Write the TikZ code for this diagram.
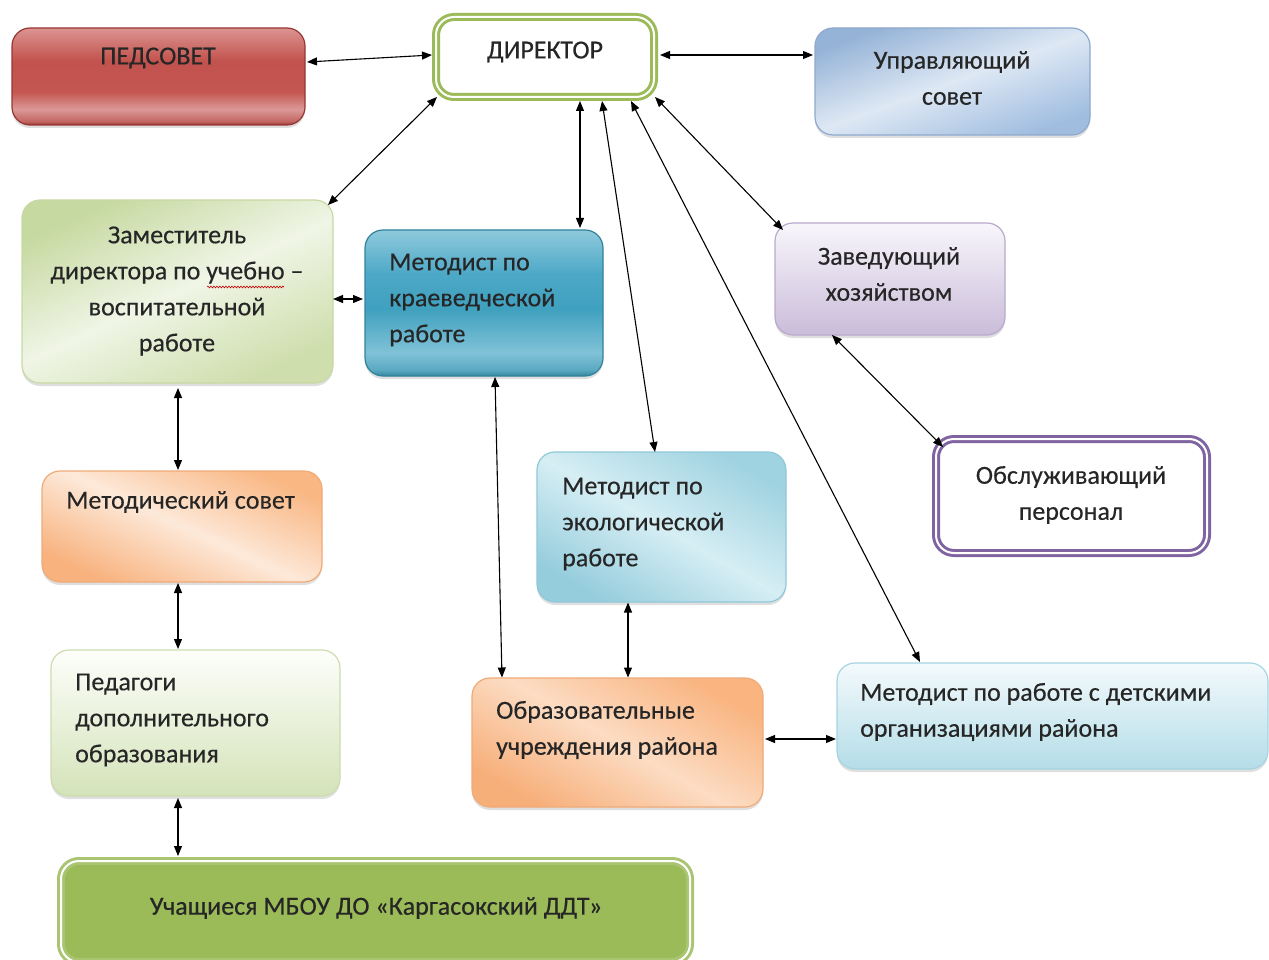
\documentclass[tikz,border=0pt]{standalone}
\usepackage{fontspec}
\setmainfont{Carlito}
\newfontfamily\lblfont{Carlito}[FakeBold=0.35]
\usetikzlibrary{arrows.meta,calc,shadows,decorations.pathmorphing}
\definecolor{grn}{HTML}{9BBB59}
\definecolor{purp}{HTML}{8064A2}
\pgfdeclareverticalshading{pedsh}{100bp}{%
  rgb(0bp)=(0.62,0.22,0.21);
  rgb(25bp)=(0.62,0.22,0.21);
  rgb(27bp)=(0.76,0.40,0.39);
  rgb(33bp)=(0.86,0.60,0.59);
  rgb(42bp)=(0.77,0.34,0.32);
  rgb(58bp)=(0.76,0.32,0.30);
  rgb(73bp)=(0.85,0.55,0.54);
  rgb(75bp)=(0.86,0.58,0.57);
  rgb(100bp)=(0.86,0.58,0.57)}
\pgfdeclareverticalshading{krsh}{100bp}{%
  rgb(0bp)=(0.20,0.52,0.62);
  rgb(25bp)=(0.20,0.52,0.62);
  rgb(27bp)=(0.35,0.66,0.76);
  rgb(33bp)=(0.50,0.76,0.84);
  rgb(48bp)=(0.25,0.63,0.75);
  rgb(60bp)=(0.30,0.66,0.78);
  rgb(75bp)=(0.56,0.79,0.86);
  rgb(100bp)=(0.56,0.79,0.86)}
\tikzset{
  box/.style={rounded corners=18pt, outer sep=0pt, inner sep=0pt, draw, line width=1.2pt,
    drop shadow={shadow xshift=0pt,shadow yshift=-3pt,opacity=0.25}},
  dbl/.style={rounded corners=18pt, outer sep=0pt, inner sep=0pt, line width=3pt, double distance=2pt,
    drop shadow={shadow xshift=0pt,shadow yshift=-3pt,opacity=0.2}},
  lbl/.style={font=\lblfont\fontsize{26}{36}\selectfont, inner sep=0pt, text=black!85},
  conn/.style={{Triangle[length=10pt,width=8pt]}-{Triangle[length=10pt,width=8pt]}, line width=1.1pt}
}
\begin{document}
\begin{tikzpicture}[x=1pt,y=-1pt]
\useasboundingbox (0,0) rectangle (1269,960);
% boxes
\node[box, minimum width=293pt, minimum height=97pt, draw={rgb,255:red,150;green,55;blue,52}, shading=pedsh] (ped) at (158.5,76.5) {};
\node[dbl, draw=grn, double=white, fill=white, minimum width=218pt, minimum height=80pt] (dir) at (545,57) {};
\node[box, minimum width=275pt, minimum height=107pt, draw={rgb,255:red,142;green,169;blue,205}, top color={rgb,255:red,149;green,179;blue,215}, bottom color={rgb,255:red,160;green,189;blue,224}, middle color={rgb,255:red,222;green,232;blue,244}, shading angle=20] (upr) at (952.5,81.5) {};
\node[box, minimum width=311pt, minimum height=183pt, draw={rgb,255:red,200;green,217;blue,165}, top color={rgb,255:red,198;green,217;blue,160}, bottom color={rgb,255:red,206;green,222;blue,172}, middle color={rgb,255:red,240;green,245;blue,230}, shading angle=25] (zam) at (177.5,291.5) {};
\node[box, minimum width=238pt, minimum height=146pt, draw={rgb,255:red,50;green,130;blue,155}, shading=krsh] (kr) at (484,303) {};
\node[box, minimum width=230pt, minimum height=112pt, draw={rgb,255:red,184;green,170;blue,204}, top color={rgb,255:red,248;green,246;blue,251}, bottom color={rgb,255:red,202;green,188;blue,218}] (zav) at (890,279) {};
\node[dbl, draw=purp, double=white, fill=white, minimum width=271pt, minimum height=114pt] (obs) at (1071.5,496) {};
\node[box, minimum width=280pt, minimum height=111pt, draw={rgb,255:red,240;green,170;blue,120}, top color={rgb,255:red,249;green,183;blue,132}, bottom color={rgb,255:red,248;green,178;blue,126}, middle color={rgb,255:red,253;green,233;blue,217}, shading angle=-25] (msov) at (182,526.5) {};
\node[box, minimum width=249pt, minimum height=150pt, draw={rgb,255:red,145;green,200;blue,216}, top color={rgb,255:red,160;green,211;blue,225}, bottom color={rgb,255:red,150;green,205;blue,221}, middle color={rgb,255:red,214;green,238;blue,244}, shading angle=-30] (eco) at (661.5,527) {};
\node[box, minimum width=289pt, minimum height=146pt, draw={rgb,255:red,205;green,220;blue,175}, top color={rgb,255:red,253;green,254;blue,250}, bottom color={rgb,255:red,212;green,227;blue,185}] (ped2) at (195.5,723) {};
\node[box, minimum width=291pt, minimum height=129pt, draw={rgb,255:red,240;green,170;blue,120}, top color={rgb,255:red,249;green,180;blue,128}, bottom color={rgb,255:red,247;green,175;blue,122}, middle color={rgb,255:red,252;green,220;blue,195}, shading angle=-30] (obr) at (617.5,742.5) {};
\node[box, minimum width=431pt, minimum height=106pt, draw={rgb,255:red,165;green,213;blue,226}, top color={rgb,255:red,244;green,250;blue,252}, bottom color={rgb,255:red,180;green,221;blue,232}] (det) at (1052.5,716) {};
\node[dbl, draw=grn!85!white, double=white, fill=grn, minimum width=629pt, minimum height=101pt] (uch) at (375.5,911.5) {};
% labels
\node[lbl] (tped) at (158,58) {ПЕДСОВЕТ};
\node[lbl] (tdir) at (545,52) {ДИРЕКТОР};
\node[lbl, align=center] (tupr) at (952,78) {Управляющий\\совет};
\node[lbl, align=center] (tzam) at (177,291) {Заместитель\\директора по учебно –\\воспитательной\\работе};
\node[lbl, align=left, anchor=west] (tkr) at (389,300) {Методист по\\краеведческой\\работе};
\node[lbl, align=center] (tzav) at (889,274) {Заведующий\\хозяйством};
\node[lbl, align=center] (tobs) at (1071,495) {Обслуживающий\\персонал};
\node[lbl, anchor=west] (tmsov) at (66,502) {Методический совет};
\node[lbl, align=left, anchor=west] (teco) at (562,524) {Методист по\\экологической\\работе};
\node[lbl, align=left, anchor=west] (tped2) at (75,720) {Педагоги\\дополнительного\\образования};
\node[lbl, align=left, anchor=west] (tobr) at (496,730) {Образовательные\\учреждения района};
\node[lbl, align=left, anchor=west] (tdet) at (860,712) {Методист по работе с детскими\\организациями района};
\node[lbl] (tuch) at (376,908) {Учащиеся МБОУ ДО «Каргасокский ДДТ»};
% spell-check underline
\coordinate (sqa) at ($(tzam)+(30,-4)$);
\coordinate (sqb) at ($(tzam)+(107,-4)$);
\draw[red!80!black, line width=0.6pt, decorate, decoration={snake, amplitude=0.9pt, segment length=3pt}] (sqa) -- (sqb);
% connectors
\draw[conn] ($(ped)+(148.5,-14.5)$) -- ($(dir)+(-113,-2)$);
\draw[conn] ($(dir)+(115,-2)$) -- ($(upr)+(-139.5,-26.5)$);
\draw[conn] ($(dir)+(-108,40)$) -- ($(zam)+(150.5,-86.5)$);
\draw[conn] ($(dir)+(35,44)$) -- ($(kr)+(96,-75)$);
\draw[conn] ($(dir)+(57,44)$) -- ($(eco)+(-6.5,-75)$);
\draw[conn] ($(dir)+(86,44)$) -- ($(det)+(-132.5,-54)$);
\draw[conn] ($(dir)+(110,40)$) -- ($(zav)+(-107,-49)$);
\draw[conn] ($(zav)+(-58,56)$) -- ($(obs)+(-128.5,-49)$);
\draw[conn] ($(zam)+(155.5,7.5)$) -- ($(kr)+(-121,-4)$);
\draw[conn] ($(zam)+(0.5,96.5)$) -- ($(msov)+(-4,-56.5)$);
\draw[conn] ($(msov)+(-4,56.5)$) -- ($(ped2)+(-17.5,-74)$);
\draw[conn] ($(ped2)+(-17.5,75)$) -- ($(uch)+(-197.5,-55.5)$);
\draw[conn] ($(kr)+(11,74)$) -- ($(obr)+(-115.5,-65)$);
\draw[conn] ($(eco)+(-33.5,75.5)$) -- ($(obr)+(10.5,-65)$);
\draw[conn] ($(obr)+(147.5,-3.5)$) -- ($(det)+(-216.5,23)$);
\end{tikzpicture}
\end{document}
